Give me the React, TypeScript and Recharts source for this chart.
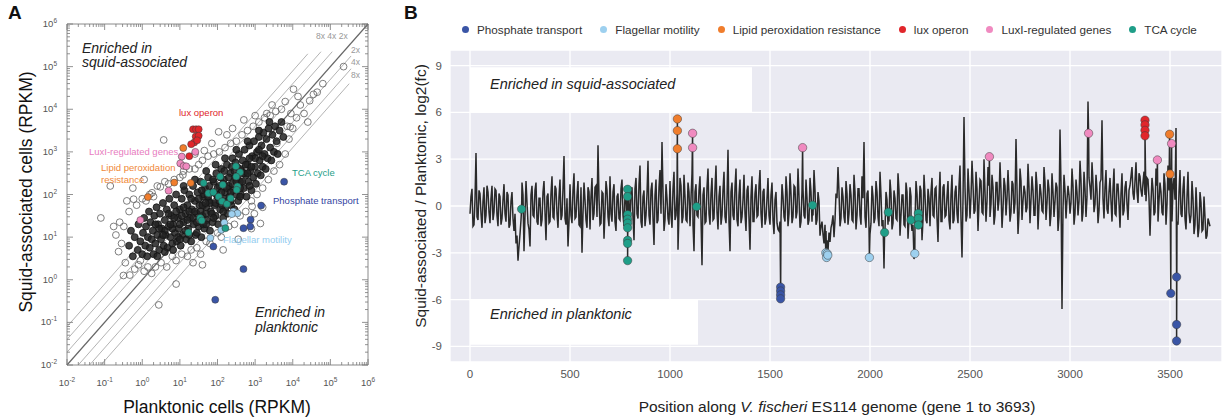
import React from "react";
import {
  CartesianGrid,
  ComposedChart,
  Line,
  ReferenceArea,
  ReferenceLine,
  Scatter,
  ScatterChart,
  XAxis,
  YAxis,
} from "recharts";

// ---------- data: panel A (log10 RPKM, planktonic x / squid y) ----------
const coreCloud: [number, number][] = [
  [-0.35, 0.8], [-0.3, 1.15], [-0.25, 0.55], [-0.2, 1.0], [-0.12, 0.7], [-0.1, 1.3], [-0.05, 0.9], [0.0, 0.6],
  [0.02, 1.1], [0.05, 1.45], [0.08, 0.8], [0.1, 1.25], [0.13, 0.55], [0.15, 1.0], [0.18, 1.6], [0.2, 0.75],
  [0.22, 1.35], [0.25, 0.95], [0.28, 1.15], [0.3, 0.6], [0.32, 1.5], [0.35, 0.85], [0.38, 1.7], [0.4, 1.05],
  [0.42, 1.3], [0.45, 0.7], [0.47, 1.55], [0.5, 0.95], [0.52, 1.2], [0.55, 1.8], [0.57, 0.8], [0.6, 1.4],
  [0.62, 1.05], [0.65, 1.65], [0.67, 0.75], [0.7, 1.25], [0.72, 1.9], [0.75, 1.0], [0.77, 1.5], [0.8, 0.85],
  [0.82, 1.3], [0.85, 1.75], [0.87, 1.1], [0.9, 2.0], [0.92, 0.9], [0.95, 1.45], [0.97, 1.2], [1.0, 1.65],
  [1.02, 0.8], [1.05, 1.9], [1.07, 1.05], [1.1, 1.35], [1.12, 2.1], [1.15, 1.55], [1.17, 0.95], [1.2, 1.75],
  [1.22, 1.2], [1.25, 2.0], [1.27, 1.45], [1.3, 0.9], [1.32, 1.65], [1.35, 2.2], [1.37, 1.3], [1.4, 1.85],
  [1.42, 1.05], [1.45, 1.55], [1.47, 2.05], [1.5, 1.25], [1.52, 1.75], [1.55, 2.3], [1.57, 1.0], [1.6, 1.5],
  [1.62, 1.95], [1.65, 1.2], [1.67, 2.15], [1.7, 1.7], [1.72, 1.4], [1.75, 2.4], [1.77, 1.85], [1.8, 1.15],
  [1.82, 1.6], [1.85, 2.05], [1.87, 1.35], [1.9, 2.3], [1.92, 1.75], [1.95, 1.5], [1.97, 2.5], [2.0, 1.95],
  [2.02, 1.3], [2.05, 2.2], [2.07, 1.65], [2.1, 2.6], [2.12, 1.85], [2.15, 1.45], [2.17, 2.35], [2.2, 2.05],
  [2.22, 1.7], [2.25, 2.7], [2.27, 1.55], [2.3, 2.2], [2.32, 1.95], [2.35, 2.5], [2.37, 1.75], [2.4, 2.85],
  [2.42, 2.1], [2.45, 1.65], [2.47, 2.4], [2.5, 2.0], [2.52, 2.65], [2.55, 1.85], [2.57, 2.95], [2.6, 2.3],
  [2.62, 2.0], [2.65, 2.55], [2.67, 2.8], [2.7, 2.15], [2.72, 3.05], [2.75, 2.45], [2.77, 1.95], [2.8, 2.7],
  [2.82, 2.3], [2.85, 3.15], [2.87, 2.55], [2.9, 2.1], [2.92, 2.9], [2.95, 2.4], [2.97, 3.25], [3.0, 2.65],
  [3.02, 2.25], [3.05, 3.0], [3.07, 2.5], [3.1, 3.35], [3.12, 2.8], [3.15, 2.45], [3.17, 3.15], [3.2, 2.65],
  [3.22, 3.45], [3.25, 2.95], [3.28, 2.6], [3.3, 3.3], [3.33, 2.85], [3.36, 3.55], [3.4, 3.1], [3.43, 2.8],
  [3.46, 3.4], [3.5, 3.0], [3.53, 3.6], [3.57, 3.25], [3.6, 2.95], [3.65, 3.5], [3.7, 3.7], [3.75, 3.35],
  [0.6, 1.15], [0.7, 1.55], [0.8, 1.2], [0.9, 1.6], [1.0, 1.3], [1.1, 1.7], [1.15, 1.15], [1.25, 1.6],
  [1.3, 1.9], [1.35, 1.45], [1.4, 1.6], [1.5, 1.9], [1.55, 1.6], [1.6, 1.75], [1.65, 2.0], [1.7, 1.55],
  [1.75, 1.95], [1.8, 1.8], [1.85, 1.55], [1.9, 2.05], [1.95, 1.8], [2.0, 2.15], [2.05, 1.85], [2.1, 2.05],
  [2.15, 2.25], [2.2, 1.9], [2.25, 2.15], [2.3, 2.4], [2.35, 2.05], [2.4, 2.25], [2.45, 2.55], [2.5, 2.3],
  [2.55, 2.45], [2.6, 2.6], [2.65, 2.3], [2.7, 2.5], [2.75, 2.7], [2.8, 2.5], [2.9, 2.65], [3.0, 2.85],
  [1.45, 1.35], [1.62, 1.3], [1.78, 2.2], [2.08, 2.4], [2.28, 1.85], [2.48, 2.75], [1.2, 1.4], [0.95, 1.0],
  [1.05, 1.5], [0.85, 1.45], [0.75, 1.3], [0.55, 1.05], [0.45, 1.2], [0.35, 1.3], [2.6, 2.15], [2.85, 2.85],
  [3.1, 3.05], [3.2, 2.9], [1.58, 2.1], [1.88, 2.35], [2.18, 2.55], [2.38, 2.65], [1.68, 1.8], [1.98, 2.0],
  [2.12, 1.75], [0.4, 0.55], [0.6, 0.65], [0.82, 0.7], [1.0, 0.95], [1.25, 1.05], [1.45, 1.1], [1.7, 1.3],
  [1.9, 1.45], [2.15, 1.6], [2.35, 1.85], [2.6, 1.95], [2.85, 2.2], [1.1, 2.2], [1.4, 2.35], [1.7, 2.55],
  [1.95, 2.7], [2.2, 2.85], [2.5, 3.05], [2.8, 3.25], [3.1, 3.5], [3.38, 3.7],
];

const haloGenes: [number, number][] = [
  [-1.1, 1.45], [-0.85, 2.2], [-0.76, 1.25], [-0.63, 0.66], [-0.41, 1.85], [-0.23, 1.89], [-0.33, 0.11],
  [0.44, -0.59], [0.57, 3.28], [1.65, 3.03], [2.03, 3.47], [3.31, 3.9], [3.8, 4.18], [4.02, 4.47], [4.14, 4.3],
  [5.35, 5.0], [2.92, 1.72], [3.14, 1.32], [0.26, 2.04], [0.48, 2.18], [1.08, 2.46], [-0.49, 1.25],
  [-0.05, 0.45], [-0.6, 1.35], [-0.7, 1.05], [-0.55, 0.85], [-0.45, 0.4], [-0.35, 1.6], [-0.2, 0.25],
  [-0.15, 1.75], [-0.1, 0.35], [0.0, 1.9], [0.05, 0.2], [0.1, 1.85], [0.15, 0.3], [0.2, 2.0], [0.25, 0.15],
  [0.3, 1.95], [0.35, 0.3], [0.4, 2.2], [0.5, 0.4], [0.6, 2.3], [0.65, 0.3], [0.7, 2.25], [0.8, 0.55],
  [0.85, 2.35], [0.9, 0.45], [1.0, 2.4], [1.05, 0.6], [1.1, 2.55], [1.2, 0.55], [1.25, 2.6], [1.3, 0.7],
  [1.4, 2.6], [1.45, 0.75], [1.5, 2.7], [1.55, 0.6], [1.6, 2.8], [1.7, 0.9], [1.75, 2.9], [1.8, 0.85],
  [1.9, 2.95], [2.0, 1.1], [2.05, 3.0], [2.1, 1.0], [2.2, 3.1], [2.3, 1.25], [2.35, 3.2], [2.45, 1.3],
  [2.5, 3.25], [2.6, 1.5], [2.65, 3.4], [2.75, 1.6], [2.8, 3.5], [2.9, 1.85], [2.95, 3.6], [3.05, 2.0],
  [3.1, 3.7], [3.2, 2.15], [3.25, 3.8], [3.35, 2.35], [3.4, 3.85], [3.5, 2.55], [3.55, 3.95], [3.65, 2.7],
  [3.7, 4.0], [3.8, 2.95], [3.85, 3.6], [3.9, 3.3], [3.95, 3.9], [4.0, 3.55], [4.1, 3.8], [4.2, 4.1],
  [4.3, 3.9], [4.45, 4.2], [4.55, 4.35], [4.65, 4.4], [3.58, 3.2], [3.93, 3.59], [3.0, 3.85], [2.7, 3.75],
  [2.4, 3.55], [2.25, 3.4], [1.85, 3.2], [1.4, 2.95], [1.2, 1.35], [2.98, 1.55], [2.9, 1.2], [0.9, -0.1],
  [-0.5, 0.1], [3.2, 1.7], [-0.25, 2.15], [0.05, 2.35], [2.55, 0.95], [2.15, 0.7], [1.6, 0.35], [1.35, 0.4],
  [4.4, 3.7], [4.8, 4.6], [3.45, 4.1],
];

const phosphateA: [number, number][] = [[3.77, 2.3], [3.16, 1.74], [2.88, 1.41], [2.87, 1.25], [2.69, 1.21], [1.89, 0.78], [2.69, 0.25], [1.94, -0.47]];
const flagellarA: [number, number][] = [[2.42, 1.6], [2.53, 1.56], [2.38, 1.54], [2.18, 1.34], [2.1, 1.17], [1.81, 0.98]];
const lipidA: [number, number][] = [[1.09, 3.09], [0.85, 2.28], [1.29, 2.27], [0.15, 1.94]];
const luxA: [number, number][] = [[1.35, 3.53], [1.43, 3.53], [1.5, 3.53], [1.42, 3.36], [1.5, 3.38], [1.38, 3.22], [1.3, 3.18], [1.46, 3.27], [1.25, 2.9]];
const luxIA: [number, number][] = [[1.05, 2.89], [1.01, 2.73], [1.1, 2.67], [1.17, 2.66], [1.41, 3.0], [0.7, 2.09], [-0.05, 1.4]];
const tcaA: [number, number][] = [
  [1.63, 2.27], [2.07, 2.42], [2.14, 2.23], [2.49, 2.66], [2.6, 2.52], [2.53, 2.19], [1.76, 2.03], [1.89, 2.05],
  [2.03, 1.95], [2.12, 1.84], [2.25, 1.78], [2.35, 1.91], [2.51, 2.11], [1.54, 1.45], [1.58, 1.39], [1.23, 1.11],
  [2.21, 1.21], [2.5, 2.42],
];

// ---------- data: panel B (gene position, log2 fold change) ----------
const GENE_STEP = 10;
// genes 0, 10, 20 ... 3690
const geneLog2fc: number[] = [
  -0.5, 1.1, -1.2, 3.4, -0.9, 0.8, -1.4, 1.2, -0.6, 0.9,
  -1.1, 1.3, -0.4, 1.0, -1.3, 0.6, -0.8, 1.4, -1.0, 0.7,
  -1.2, 0.9, -1.6, -2.4, -3.5, -1.8, 1.5, -2.9, 1.6, -1.1,
  -2.6, 1.3, -0.7, 1.5, -1.2, 0.5, -0.9, 1.6, -2.2, 0.8,
  -1.0, 1.9, -0.8, 1.1, -1.4, 1.7, -0.6, 3.2, -1.2, -2.6,
  1.4, -1.1, 2.1, -0.7, 1.6, -1.3, -3.0, 1.5, -0.9, 1.2,
  -1.5, 1.8, -0.5, 1.3, 3.9, -1.2, 0.9, -2.1, 1.6, -0.7,
  1.9, -1.0, 1.4, -1.6, 0.8, -0.9, 1.7, -1.3, 0.6, 1.1,
  -1.5, 1.2, -2.2, 1.8, -0.8, 2.6, -1.4, 1.0, -0.6, 2.9,
  -1.2, 1.5, -2.5, 1.7, -0.9, 2.3, 4.1, -1.6, 1.4, -0.8,
  1.6, -1.4, 2.2, -0.6, -2.8, 1.8, -1.1, 2.0, -0.9, 1.5,
  -1.3, 2.1, -2.9, 1.4, -0.7, 1.9, -3.8, 1.2, -1.0, 2.4,
  -1.2, 1.8, -0.8, 2.6, -1.5, 1.3, -0.6, 2.2, -1.1, 3.6,
  -2.9, 1.5, -0.9, 2.4, -1.3, 1.7, -0.7, 2.0, -1.6, 1.3,
  -2.8, 1.9, -1.0, 1.4, -0.6, 2.3, -1.4, 1.1, -0.8, 1.8,
  -1.2, 1.5, -1.8, 0.9, -1.5, -1.0, 1.4, -0.7, 1.9, -1.3,
  2.1, -1.1, 1.3, -0.8, 2.4, -1.4, 1.0, -0.6, 1.7, -1.2,
  1.8, -1.0, 2.3, -1.2, 0.9, -1.9, -1.0, -2.4, -1.6, -2.9,
  -2.3, -1.1, -2.0, 0.8, 2.5, -1.3, 1.2, -0.7, 1.6, -1.2,
  1.4, -0.9, 2.0, -1.5, 1.1, -0.6, 1.9, 4.1, -1.4, 1.0,
  -1.8, 1.3, -1.1, 1.6, -0.7, 2.2, -1.3, -4.0, 0.9, -1.2,
  1.7, -1.5, 1.0, -0.8, 2.1, -1.9, 0.7, -1.2, 1.5, -2.1,
  1.2, -1.6, -3.4, 1.6, -1.0, 1.3, -2.2, 2.0, -0.9, 1.1,
  -1.3, 1.8, -0.7, 1.2, -2.3, 2.2, -1.0, 1.4, -0.6, 1.6,
  -1.5, 2.0, -0.9, 1.3, -1.1, 2.6, -3.3, 5.7, -1.0, 2.4,
  -0.8, 2.9, -0.5, 2.2, -1.6, 1.7, -0.4, 3.0, -1.0, 2.5,
  -0.7, 2.0, -1.2, 1.5, -0.3, 2.8, -1.4, 1.8, -0.6, 2.3,
  -1.0, 1.6, -0.5, 4.3, -1.8, 2.4, -0.9, 1.3, -0.4, 2.7,
  -1.1, 1.9, -0.6, 2.2, -1.5, 1.4, -0.3, 2.5, -0.9, 1.7,
  -1.3, 2.1, -0.7, 1.5, -1.6, 4.9, -6.6, 2.0, -0.8, 1.3,
  -0.5, 2.4, -1.2, 1.7, -0.6, 2.9, -1.0, 2.2, -0.7, 6.7,
  1.2, 2.8, -0.4, 2.0, -1.1, 1.5, 5.5, -0.8, 2.3, -0.5,
  1.8, -1.0, 2.4, -0.6, 1.4, -1.4, 2.1, -0.3, 1.6, -0.9,
  1.3, 2.5, 0.4, 2.8, 0.2, 1.9, 0.6, 2.2, 0.3, 1.7,
  -1.9, 1.8, -0.6, 2.4, -1.0, 1.5, -0.4, 2.1, -1.2, 2.6,
  1.2, -1.0, 1.8, 5.0, -1.2, 2.3, -0.7, 1.9, -1.5, 2.2,
  -1.1, 1.6, -1.8, 1.2, -2.0, 0.9, -1.6, 0.6, -2.1, -0.8,
  -1.3,
];
// genes 5, 15, 25 ... 3685
const geneLog2fcMid: number[] = [
  0.6, -1.3, 0.4, -0.7, 1.0, -0.5, 0.3, -1.1, 1.3, -0.4,
  0.5, -0.9, 1.1, -0.6, 0.8, -1.2, 0.4, -0.5, 0.9, -1.4,
  0.3, -0.8, -0.5, -1.9, -2.6, -0.9, 0.7, -0.6, 0.2, -1.5,
  0.7, -0.6, 1.0, -1.0, 0.5, -1.3, 0.9, -0.4, 0.6, -1.1,
  0.8, -0.7, 1.3, -0.5, 0.6, -0.9, 1.1, -0.8, 0.5, -1.0,
  -0.6, 1.0, -0.8, 0.7, -1.2, 1.2, -0.5, 0.4, -1.4, 0.9,
  0.6, -0.9, 1.2, -0.7, 0.5, -1.1, 0.8, -0.4, 1.0, -1.3,
  -0.5, 0.9, -1.0, 0.6, -0.8, 1.1, -0.6, 0.7, -1.2, 0.4,
  0.9, -0.7, 1.1, -0.5, 1.4, -1.0, 0.6, -1.3, 0.8, -0.6,
  1.0, -0.8, 0.7, -1.1, 1.2, -0.5, 0.9, -0.9, 0.5, -1.2,
  -0.6, 1.1, -0.9, 0.8, -0.4, 1.3, -0.7, 0.6, -1.0, 0.9,
  0.5, -1.2, 0.9, -0.6, 1.0, -0.8, 0.7, -1.1, 1.2, -0.5,
  0.8, -0.9, 1.1, -0.4, 0.6, -1.2, 1.0, -0.7, 0.5, -1.0,
  0.9, -0.6, 1.2, -0.9, 0.7, -1.1, 0.4, -0.5, 1.0, -0.8,
  0.6, -1.0, 0.8, -0.7, 1.3, -0.5, 0.9, -1.2, 0.5, -0.6,
  0.7, -0.9, 0.4, -1.1, -1.6, -0.8, 0.6, -1.0, 0.9, -0.5,
  0.8, -0.7, 1.2, -0.4, 0.6, -1.0, 1.1, -0.8, 0.5, -0.9,
  0.9, -0.6, 1.0, -0.9, 0.3, -1.3, -1.8, -1.2, -2.2, -1.7,
  -1.4, -0.6, -0.9, 0.5, 0.9, -0.8, 0.6, -1.1, 0.8, -0.5,
  0.7, -1.0, 0.9, -0.6, 1.1, -1.2, 0.5, -0.7, 0.8, -1.4,
  -1.1, 0.6, -0.8, 0.9, -1.3, 0.7, -0.9, -1.5, 0.4, -1.0,
  0.8, -1.1, 0.5, -0.9, 1.0, -0.6, 0.7, -1.3, 0.9, -0.8,
  0.6, -1.2, -1.0, 0.8, -0.5, 1.0, -0.9, 0.7, -1.1, 0.5,
  0.9, -0.6, 1.1, -0.8, 0.5, -1.0, 1.2, -0.7, 0.6, -0.9,
  0.7, -1.1, 0.9, -0.5, 1.3, -0.8, 0.4, 1.2, -0.6, 1.0,
  0.6, 1.4, -0.3, 1.1, 0.2, 1.6, -0.5, 0.9, 0.3, 1.3,
  0.1, 1.2, -0.6, 1.5, 0.4, 1.0, -0.2, 1.3, 0.5, 0.8,
  -0.4, 1.4, 0.2, 1.1, -0.5, 1.6, 0.3, 0.9, -0.1, 1.2,
  0.4, 1.0, -0.6, 1.3, 0.1, 0.8, -0.4, 1.5, 0.2, 1.1,
  -0.5, 0.9, 0.3, 1.2, -0.7, 1.4, -0.2, 1.0, 0.4, 0.7,
  0.2, 1.3, -0.5, 0.9, 0.3, 1.6, -0.4, 1.1, 0.6, 1.8,
  0.4, 1.5, 0.1, 1.0, -0.3, 1.7, 0.5, 1.2, -0.2, 0.9,
  0.3, 1.1, -0.5, 1.4, 0.2, 0.8, -0.6, 1.2, 0.1, 1.0,
  1.9, 0.8, 1.6, 0.9, 2.1, 1.0, 1.5, 0.7, 1.8, 0.5,
  0.2, 1.1, -0.4, 1.3, 0.3, 0.9, -0.6, 1.4, 0.1, 1.0,
  -0.3, 1.2, 0.4, -1.0, 0.9, -0.5, 1.1, -0.8, 0.6, -0.4,
  -0.6, 0.5, -1.2, -0.3, -1.4, 0.2, -1.5, -0.7, -1.9,
];

const phosphateB: [number, number][] = [[1553, -5.2], [1553, -5.45], [1553, -5.7], [1553, -5.95], [3504, -5.6], [3533, -4.55], [3533, -7.6], [3533, -8.65]];
const flagellarB: [number, number][] = [[1779, -3.0], [1783, -3.3], [1786, -3.05], [1789, -3.15], [1997, -3.3], [2224, -3.05]];
const lipidB: [number, number][] = [[1037, 5.58], [1037, 4.83], [1037, 3.67], [3498, 4.6], [3500, 2.05]];
const luxB: [number, number][] = [[3375, 5.5], [3375, 5.2], [3375, 4.85], [3375, 4.5]];
const luxIB: [number, number][] = [[1113, 4.66], [1113, 3.74], [1663, 3.74], [2597, 3.16], [3093, 4.66], [3437, 2.95], [3508, 4.0]];
const tcaB: [number, number][] = [
  [258, -0.2], [788, 1.07], [788, 0.6], [788, -0.55], [788, -0.85], [788, -1.1], [788, -1.4], [788, -2.2],
  [788, -2.4], [788, -3.5], [1133, -0.04], [1713, 0.05], [2073, -1.7], [2092, -0.4], [2205, -0.9],
  [2242, -0.47], [2242, -0.79], [2242, -1.22],
];

const categoryNames = [
  "Phosphate transport",
  "Flagellar motility",
  "Lipid peroxidation resistance",
  "lux operon",
  "LuxI-regulated genes",
  "TCA cycle",
];
const pointsA = [phosphateA, flagellarA, lipidA, luxA, luxIA, tcaA];
const pointsB = [phosphateB, flagellarB, lipidB, luxB, luxIB, tcaB];

const xTicksB = [0, 500, 1000, 1500, 2000, 2500, 3000, 3500];
const yTicksB = [-9, -6, -3, 0, 3, 6, 9];

// ---------- styles ----------
const COLORS = ["#3a55a6", "#9dd0ef", "#f07d2c", "#e1262b", "#f08ac0", "#1f9e88"];
const LABEL_COLORS = ["#3344a0", "#93cdf0", "#f08838", "#e0262b", "#e77cc0", "#1e9e88"];
const FONT = "'Liberation Sans', Arial, Helvetica, sans-serif";
const PA = { left: 67, right: 368, top: 24, bottom: 365 };

const majorA = [-2, -1, 0, 1, 2, 3, 4, 5, 6];
const ticksA: number[] = [];
majorA.forEach((n) => {
  ticksA.push(n);
  if (n < 6) for (let k = 2; k <= 9; k++) ticksA.push(n + Math.log10(k));
});
const isMajor = (v: number) => Math.abs(v - Math.round(v)) < 1e-6;

const toXY = (arr: [number, number][]) => arr.map(([x, y]) => ({ x, y }));
const toPV = (arr: [number, number][]) => arr.map(([pos, v]) => ({ pos, v }));

const lineData = [
  ...geneLog2fc.map((v, i) => ({ pos: i * GENE_STEP, v })),
  ...geneLog2fcMid.map((v, i) => ({ pos: i * GENE_STEP + GENE_STEP / 2, v })),
  ...pointsB.flatMap((arr) => toPV(arr)),
].sort((a, b) => a.pos - b.pos);

function XTickA(props: any) {
  const { x, payload } = props;
  const v = payload.value;
  const major = isMajor(v);
  const len = major ? 6 : 3;
  return (
    <g>
      <line x1={x} x2={x} y1={PA.bottom} y2={PA.bottom - len} stroke="#777" strokeWidth={0.8} />
      <line x1={x} x2={x} y1={PA.top} y2={PA.top + len} stroke="#777" strokeWidth={0.8} />
      {major && (
        <text x={x} y={PA.bottom + 21} textAnchor="middle" fontSize={9.5} fill="#555">
          10
          <tspan dy={-4} fontSize={6.5}>{Math.round(v)}</tspan>
        </text>
      )}
    </g>
  );
}

function YTickA(props: any) {
  const { y, payload } = props;
  const v = payload.value;
  const major = isMajor(v);
  const len = major ? 6 : 3;
  return (
    <g>
      <line x1={PA.left} x2={PA.left + len} y1={y} y2={y} stroke="#777" strokeWidth={0.8} />
      <line x1={PA.right} x2={PA.right - len} y1={y} y2={y} stroke="#777" strokeWidth={0.8} />
      {major && (
        <text x={PA.left - 10} y={y + 3} textAnchor="end" fontSize={9.5} fill="#555">
          10
          <tspan dy={-4} fontSize={6.5}>{Math.round(v)}</tspan>
        </text>
      )}
    </g>
  );
}

const haloShape = (p: any) => <circle cx={p.cx} cy={p.cy} r={3.4} fill="none" stroke="#5e5e5e" strokeWidth={0.8} />;
const coreShape = (p: any) => (
  <circle cx={p.cx} cy={p.cy} r={3.5} fill="#222" fillOpacity={0.85} stroke="#151515" strokeWidth={0.8} />
);
const dotShape = (color: string, r: number) => (p: any) =>
  <circle cx={p.cx} cy={p.cy} r={r} fill={color} stroke="#3a3a3a" strokeWidth={0.5} />;

const diagonals = [
  { pts: [[-2, -2], [6, 6]], main: true },
  { pts: [[-2, -1.7], [5.05, 5.35]] },
  { pts: [[-2, -1.4], [4.75, 5.35]] },
  { pts: [[-2, -1.1], [4.4, 5.3]] },
  { pts: [[-1.7, -2], [5.55, 5.25]] },
  { pts: [[-1.4, -2], [5.55, 4.95]] },
  { pts: [[-1.1, -2], [5.5, 4.6]] },
];

const abs = (left: number, top: number, extra: React.CSSProperties = {}): React.CSSProperties => ({
  position: "absolute",
  left,
  top,
  whiteSpace: "nowrap",
  ...extra,
});

function PanelA() {
  return (
    <div style={{ position: "absolute", left: 0, top: 0, width: 400, height: 417 }}>
      <ScatterChart width={400} height={417} margin={{ top: 24, right: 32, bottom: 22, left: 17 }}>
        <XAxis type="number" dataKey="x" domain={[-2, 6]} ticks={ticksA} interval={0} tick={XTickA}
          tickLine={false} axisLine={false} height={30} allowDataOverflow />
        <YAxis type="number" dataKey="y" domain={[-2, 6]} ticks={ticksA} interval={0} tick={YTickA}
          tickLine={false} axisLine={false} width={50} allowDataOverflow />
        <ReferenceArea x1={-2} x2={6} y1={-2} y2={6} fill="#fff" fillOpacity={0} stroke="#8a8a8a" strokeWidth={1} />
        {diagonals.map((d, i) => (
          <ReferenceLine key={i}
            segment={[{ x: d.pts[0][0], y: d.pts[0][1] }, { x: d.pts[1][0], y: d.pts[1][1] }]}
            stroke={d.main ? "#666" : "#a0a0a0"} strokeWidth={d.main ? 1.2 : 0.8} />
        ))}
        <Scatter data={toXY(haloGenes)} shape={haloShape} isAnimationActive={false} />
        <Scatter data={toXY(coreCloud)} shape={coreShape} isAnimationActive={false} />
        {pointsA.map((arr, i) => (
          <Scatter key={i} name={categoryNames[i]} data={toXY(arr)} shape={dotShape(COLORS[i], 3.5)} isAnimationActive={false} />
        ))}
      </ScatterChart>

      <div style={abs(8, 2, { fontSize: 19, fontWeight: "bold" })}>A</div>
      <div style={abs(217, 397, { fontSize: 17.5, transform: "translateX(-50%)" })}>Planktonic cells (RPKM)</div>
      <div style={abs(26, 192, { fontSize: 17.5, transform: "translate(-50%, -50%) rotate(-90deg)" })}>
        Squid-associated cells (RPKM)
      </div>
      <div style={abs(82, 41, { fontSize: 14, fontStyle: "italic", lineHeight: "14px", color: "#222" })}>
        Enriched in<br />squid-associated
      </div>
      <div style={abs(255, 305, { fontSize: 14, fontStyle: "italic", lineHeight: "15px", color: "#222" })}>
        Enriched in<br />planktonic
      </div>
      <div style={abs(179, 107, { fontSize: 9.5, color: LABEL_COLORS[3] })}>lux operon</div>
      <div style={abs(89, 146, { fontSize: 9.5, color: LABEL_COLORS[4] })}>LuxI-regulated genes</div>
      <div style={abs(101, 162, { fontSize: 9.5, color: LABEL_COLORS[2], lineHeight: "12px" })}>
        Lipid peroxidation<br />resistance
      </div>
      <div style={abs(292, 167, { fontSize: 9.5, color: LABEL_COLORS[5] })}>TCA cycle</div>
      <div style={abs(273, 195, { fontSize: 9.5, color: LABEL_COLORS[0] })}>Phosphate transport</div>
      <div style={abs(223, 234, { fontSize: 9.5, color: LABEL_COLORS[1] })}>Flagellar motility</div>
      <div style={abs(316, 31, { fontSize: 8.5, color: "#999" })}>8x 4x 2x</div>
      <div style={abs(351, 45, { fontSize: 8.5, color: "#999" })}>2x</div>
      <div style={abs(351, 57, { fontSize: 8.5, color: "#999" })}>4x</div>
      <div style={abs(351, 70, { fontSize: 8.5, color: "#999" })}>8x</div>
    </div>
  );
}

function PanelB() {
  return (
    <div style={{ position: "absolute", left: 400, top: 0, width: 823, height: 417 }}>
      <ComposedChart width={823} height={417} margin={{ top: 50, right: 1, bottom: 25, left: 0 }}>
        <CartesianGrid fill="#eaeaf2" stroke="#ffffff" strokeWidth={1.3} />
        <XAxis type="number" dataKey="pos" domain={[-100, 3760]} ticks={xTicksB} interval={0}
          axisLine={false} tickLine={false} height={30} tick={{ fill: "#555", fontSize: 11.5 }} allowDataOverflow />
        <YAxis type="number" dataKey="v" domain={[-10, 10]} ticks={yTicksB} interval={0}
          axisLine={false} tickLine={false} width={50} tick={{ fill: "#555", fontSize: 11.5 }} allowDataOverflow />
        <ReferenceArea x1={0} x2={1410} y1={6} y2={8.9} fill="#ffffff" fillOpacity={1} stroke="none" />
        <ReferenceArea x1={0} x2={1140} y1={-6} y2={-8.9} fill="#ffffff" fillOpacity={1} stroke="none" />
        <Line data={lineData} dataKey="v" type="linear" stroke="#2a2a2a" strokeWidth={1.5} dot={false}
          isAnimationActive={false} legendType="none" />
        {pointsB.map((arr, i) => (
          <Scatter key={i} name={categoryNames[i]} data={toPV(arr)} shape={dotShape(COLORS[i], 4.2)} isAnimationActive={false} />
        ))}
      </ComposedChart>

      <div style={abs(4, 2, { fontSize: 19, fontWeight: "bold" })}>B</div>
      <div style={abs(90, 76, { fontSize: 14.5, fontStyle: "italic", color: "#222" })}>Enriched in squid-associated</div>
      <div style={abs(90, 306, { fontSize: 14.5, fontStyle: "italic", color: "#222" })}>Enriched in planktonic</div>
      <div style={abs(437, 398, { fontSize: 15.5, transform: "translateX(-50%)", color: "#222" })}>
        Position along <i>V. fischeri</i> ES114 genome (gene 1 to 3693)
      </div>
      <div style={abs(21, 196, { fontSize: 15.5, color: "#222", transform: "translate(-50%, -50%) rotate(-90deg)" })}>
        Squid-associated / Planktonic, log2(fc)
      </div>
      <div style={abs(62, 23, { display: "flex", alignItems: "center", gap: 18, fontSize: 11.7, color: "#333" })}>
        {categoryNames.map((n, i) => (
          <div key={n} style={{ display: "flex", alignItems: "center", gap: 8 }}>
            <span style={{ width: 7, height: 7, borderRadius: "50%", background: COLORS[i], display: "inline-block" }} />
            {n}
          </div>
        ))}
      </div>
    </div>
  );
}

export default function App() {
  return (
    <div style={{ position: "absolute", left: 0, top: 0, width: 1223, height: 417, background: "#fff", fontFamily: FONT, color: "#111" }}>
      <PanelA />
      <PanelB />
    </div>
  );
}
